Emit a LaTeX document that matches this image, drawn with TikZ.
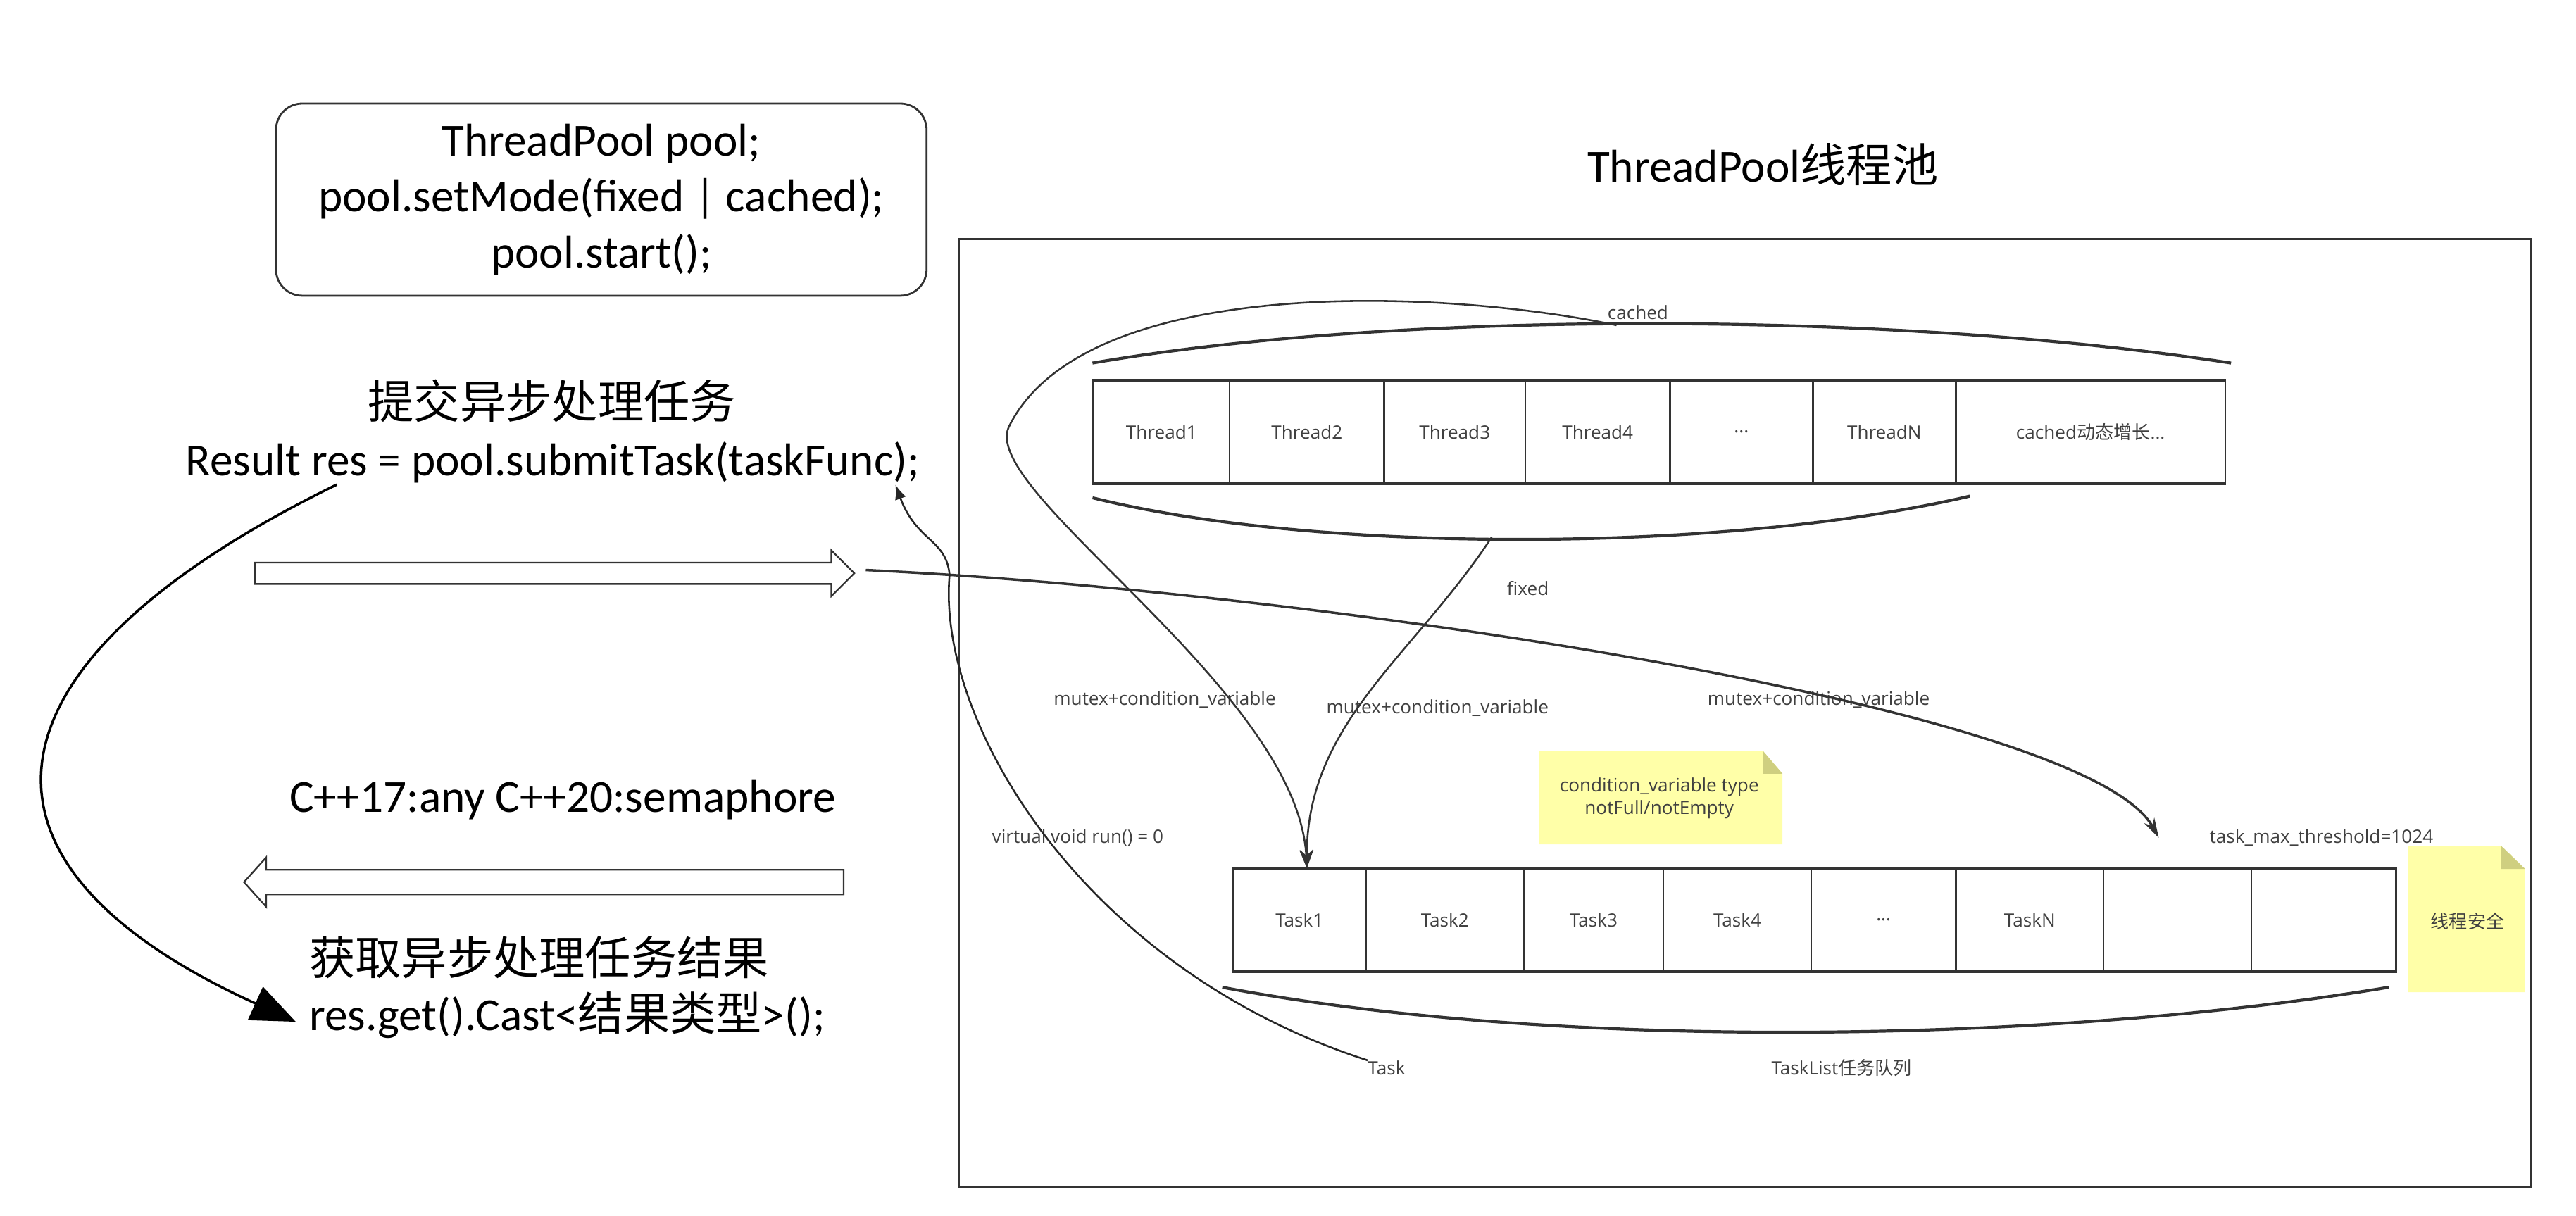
\documentclass[tikz,border=0pt]{standalone}
\usepackage{fontspec}
\setmainfont{Carlito}
\newfontfamily\cjk{Noto Sans CJK SC}
\newfontfamily\lab{Open Sans}
\usetikzlibrary{arrows.meta}
\definecolor{ln}{HTML}{333333}
\definecolor{tx}{HTML}{404040}
\definecolor{notefill}{HTML}{FFFFA8}
\definecolor{notefold}{HTML}{CFCF80}
\begin{document}
\begin{tikzpicture}[x=1pt,y=-1pt,
  big/.style={font=\fontsize{28}{34}\selectfont, inner sep=0pt, text=black},
  lbl/.style={font=\lab\fontsize{11.2}{14}\selectfont, inner sep=0pt, text=tx},
  cell/.style={draw=ln, line width=1pt, minimum height=62pt, inner sep=0pt, anchor=west, font=\lab\fontsize{11.2}{14}\selectfont, text=tx},
  conn/.style={draw=ln, line width=1.1pt},
  brace/.style={draw=ln, line width=1.8pt},
  hollow/.style={draw=ln, line width=1pt, fill=white},
]
\useasboundingbox (0,0) rectangle (1568,740);
\fill[white] (0,0) rectangle (1568,740);

% ---------- left side ----------
\node[draw=ln, line width=1.2pt, rounded corners=16pt, minimum width=396pt, minimum height=117pt, align=center, big] (init) at (366,121.5)
  {ThreadPool pool;\\pool.setMode(fixed | cached);\\pool.start();};

\node[big] (submitzh) at (336,244) {\cjk 提交异步处理任务};
\node[big] (submit) at (336.5,281.5) {Result res = pool.submitTask(taskFunc);};
\node[big] (cpp) at (342.5,487) {C++17:any C++20:semaphore};
\node[big, anchor=west] (getzh) at (188,583) {\cjk 获取异步处理任务结果};
\node[big, anchor=west] (get) at (188,618) {res.get().Cast<{\cjk 结果类型}>();};

\draw[hollow] (155,342.5) -- (506,342.5) -- (506,335) -- (520,349) -- (506,363) -- (506,355.5) -- (155,355.5) -- cycle;
\draw[hollow] (513.5,529.5) -- (162,529.5) -- (162,522) -- (148.5,537) -- (162,552) -- (162,544.5) -- (513.5,544.5) -- cycle;

\coordinate (bstart) at (205,295);
\coordinate (btip) at (180,622);
\draw[black, line width=1.5pt, -{Triangle[length=27pt,width=22pt]}] (bstart) .. controls (-10,400) and (-40,522) .. (btip);

% ---------- thread pool frame ----------
\node[draw=ln, line width=1.3pt, minimum width=957pt, minimum height=577pt, inner sep=0pt, anchor=north west] (pool) at (583,145) {};
\node[big] (title) at (1073,100) {ThreadPool{\cjk 线程池}};

% thread row
\node[cell, minimum width=83pt]  (th1) at (665,263) {Thread1};
\node[cell, minimum width=94pt]  (th2) at (748,263) {Thread2};
\node[cell, minimum width=86pt]  (th3) at (842,263) {Thread3};
\node[cell, minimum width=88pt]  (th4) at (928,263) {Thread4};
\node[cell, minimum width=87pt]  (th5) at (1016,263) {...};
\node[cell, minimum width=87pt]  (th6) at (1103,263) {ThreadN};
\node[cell, minimum width=164pt] (th7) at (1190,263) {cached{\cjk 动态增长}...};
\draw[ln, line width=1.7pt] (th1.north west) -- (th7.north east) (th1.south west) -- (th7.south east);

% task row
\node[cell, minimum width=81pt] (k1) at (750,560) {Task1};
\node[cell, minimum width=96pt] (k2) at (831,560) {Task2};
\node[cell, minimum width=85pt] (k3) at (927,560) {Task3};
\node[cell, minimum width=90pt] (k4) at (1012,560) {Task4};
\node[cell, minimum width=88pt] (k5) at (1102,560) {...};
\node[cell, minimum width=90pt] (k6) at (1190,560) {TaskN};
\node[cell, minimum width=90pt] (k7) at (1280,560) {};
\node[cell, minimum width=88pt] (k8) at (1370,560) {};
\draw[ln, line width=1.7pt] (k1.north west) -- (k8.north east) (k1.south west) -- (k8.south east);

% braces
\draw[brace] (665,221) .. controls (850,189) and (1150,189) .. (1358,221);
\draw[brace] (665,303) .. controls (800,337) and (1050,337) .. (1199,302);
\draw[brace] (744,601) .. controls (950,640) and (1250,635) .. (1454,601);

% notes
\fill[notefill] (937,457) -- (1073,457) -- (1085,471) -- (1085,514) -- (937,514) -- cycle;
\fill[notefold] (1073,457) -- (1085,471) -- (1073,471) -- cycle;
\node[lbl, align=center] (cvnote) at (1010,486) {condition\_variable type\\notFull/notEmpty};
\fill[notefill] (1466,515) -- (1522.5,515) -- (1537,529) -- (1537,604) -- (1466,604) -- cycle;
\fill[notefold] (1522.5,515) -- (1537,529) -- (1522.5,529) -- cycle;
\node[lbl] (safe) at (1502,561) {\cjk 线程安全};

% labels
\node[lbl] (cachedlbl) at (997,190) {cached};
\node[lbl] (fixedlbl) at (930,358) {fixed};
\node[lbl] (mc1) at (709,426) {mutex+condition\_variable};
\node[lbl] (mc2) at (875,431) {mutex+condition\_variable};
\node[lbl] (mc3) at (1107,426) {mutex+condition\_variable};
\node[lbl] (virt) at (656,510) {virtual void run() = 0};
\node[lbl] (tmax) at (1413,510) {task\_max\_threshold=1024};
\node[lbl] (task) at (844,650) {Task};
\node[lbl] (tasklist) at (1121,650) {TaskList{\cjk 任务队列}};

% connectors
\coordinate (cstart) at (984,198);
\coordinate (fstart) at (908,327);
\draw[conn, -{Stealth[length=11pt,width=8pt]}] (cstart) .. controls (880,176) and (660,166) .. (614,260)
   .. controls (596,300) and (790,420) .. ([xshift=4.5pt]k1.north);
\draw[conn, -{Stealth[length=11pt,width=8pt]}] (fstart) .. controls (860,400) and (795,440) .. ([xshift=4.5pt]k1.north);

\coordinate (mstart) at (527,347);
\coordinate (mend) at (1314,510);
\draw[conn, line width=1.5pt, -{Stealth[length=12pt,width=7pt]}] (mstart) .. controls (800,360) and (1270,430) .. (mend);

\coordinate (ttip) at (545,295);
\draw[conn, draw=black!85, -{Latex[length=9pt,width=7pt]}] (task.north west) .. controls (660,590) and (570,440) .. (578,350)
   .. controls (576,328) and (558,330) .. (ttip);
\end{tikzpicture}
\end{document}
